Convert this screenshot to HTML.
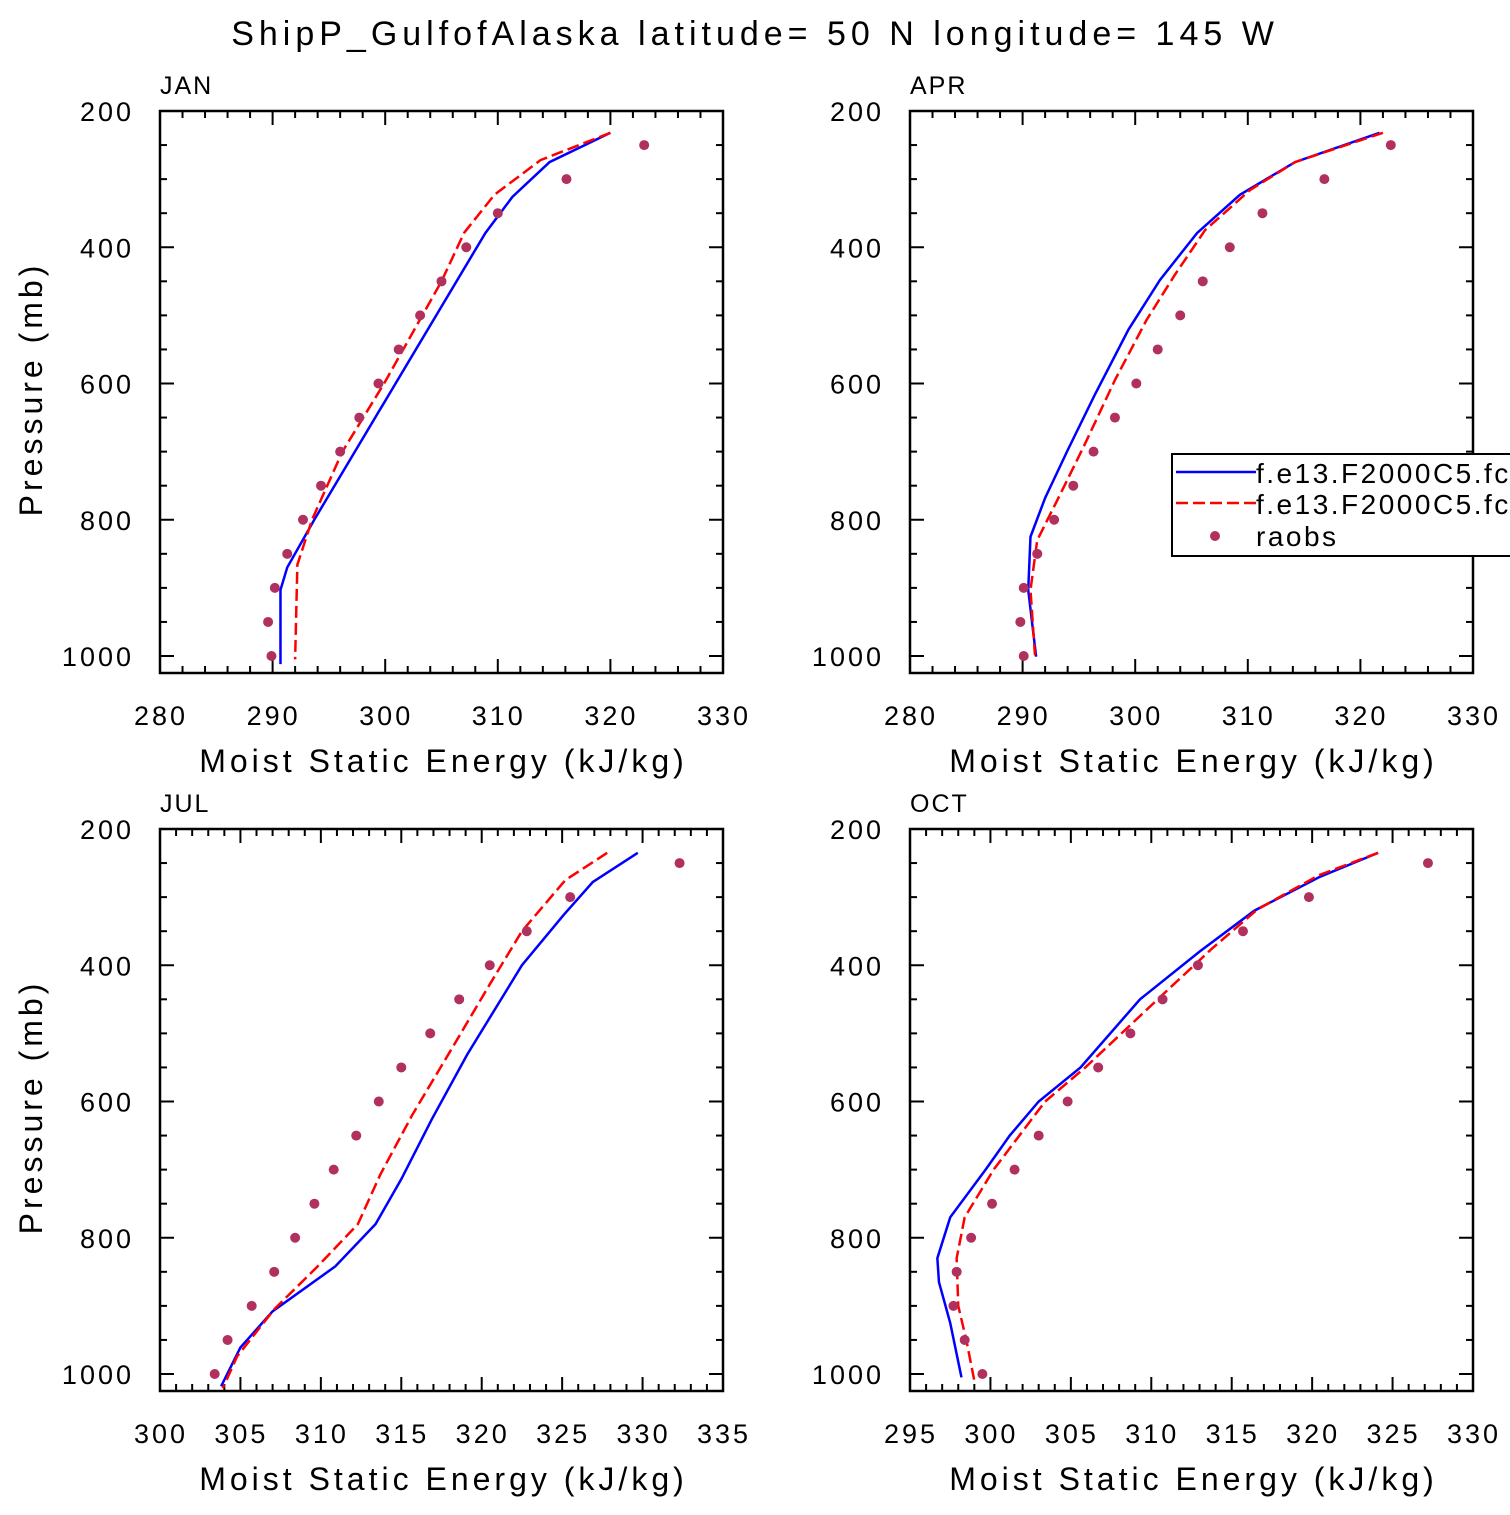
<!DOCTYPE html>
<html><head><meta charset="utf-8"><style>
body{margin:0;background:#fff;width:1510px;height:1510px;overflow:hidden}
svg text{font-family:"Liberation Sans","DejaVu Sans",sans-serif;fill:#000}
</style></head><body>
<svg id="chart" width="1510" height="1510" xmlns="http://www.w3.org/2000/svg">
<text x="755" y="45" font-size="34" text-anchor="middle" letter-spacing="5">ShipP_GulfofAlaska  latitude= 50 N longitude= 145 W</text>
</svg>
<script>
const pressureLevels=[250,300,350,400,450,500,550,600,650,700,750,800,850,900,950,1000];
const janRaobs=[323.0,316.1,310.0,307.2,305.0,303.1,301.2,299.4,297.7,296.0,294.3,292.7,291.3,290.2,289.6,289.9];
const janBlueP=[232,275,326,379,800,870,903,1012];
const janBlueX=[320.0,314.6,311.3,308.9,293.7,291.3,290.7,290.7];
const janRedP=[232,272,323,379,450,600,700,800,866,1005];
const janRedX=[320.0,313.8,309.7,307.0,305.0,299.9,296.2,293.5,292.2,292.0];
const aprRaobs=[322.7,316.8,311.3,308.4,306.0,304.0,302.0,300.1,298.2,296.3,294.5,292.8,291.3,290.1,289.8,290.1];
const aprBlueP=[232,275,323,379,448,521,617,698,768,825,903,1001];
const aprBlueX=[321.7,314.2,309.3,305.5,302.2,299.4,296.4,294.0,292.0,290.7,290.5,291.2];
const aprRedP=[232,275,316,375,441,507,595,690,764,830,903,999];
const aprRedX=[322.0,314.2,310.2,306.2,303.5,301.0,298.2,295.5,293.3,291.3,290.7,291.1];
const julRaobs=[332.3,325.5,322.8,320.5,318.6,316.8,315.0,313.6,312.2,310.8,309.6,308.4,307.1,305.7,304.2,303.4];
const julBlueP=[235,278,326,400,531,626,714,780,842,908,961,1018];
const julBlueX=[329.7,326.9,325.1,322.5,319.1,316.9,315.0,313.4,310.9,307.0,305.0,303.8];
const julRedP=[235,275,350,428,516,619,707,780,842,905,974,1021];
const julRedX=[327.8,325.2,322.5,320.5,318.3,315.7,313.7,312.3,309.8,307.1,304.8,303.9];
const octRaobs=[327.2,319.8,315.7,312.9,310.7,308.7,306.7,304.8,303.0,301.5,300.1,298.8,297.9,297.7,298.4,299.5];
const octBlueP=[235,270,320,380,450,550,600,650,700,770,830,865,925,1005];
const octBlueX=[324.1,320.5,316.4,313.0,309.3,305.6,303.0,301.2,299.7,297.5,296.7,296.8,297.5,298.2];
const octRedP=[235,268,318,375,450,550,600,650,700,770,830,900,950,1010];
const octRedX=[324.1,320.4,316.6,313.8,310.4,305.9,303.4,301.8,300.2,298.4,297.9,298.0,298.5,299.0];
const xTicksA=[280,290,300,310,320,330];
const xTicksB=[300,305,310,315,320,325,330,335];
const xTicksC=[295,300,305,310,315,320,325,330];
const yTicks=[200,400,600,800,1000];

const NS="http://www.w3.org/2000/svg";
const svg=document.getElementById('chart');
function mk(tag,attrs,parent){const e=document.createElementNS(NS,tag);for(const k in attrs)e.setAttribute(k,attrs[k]);(parent||svg).appendChild(e);return e;}

function panel(name,x0,y0,xmin,xmax,xminor,xticks,raobs,bp,bx,rp,rx){
  const W=563,H=562;
  const g=mk('g',{});
  
  
  const sx=v=>x0+(v-xmin)/(xmax-xmin)*W;
  const sy=p=>y0+(p-200)*0.68125;
  const lab=mk('text',{x:x0,y:y0-17,'font-size':25,'letter-spacing':2},g);lab.textContent=name.toUpperCase();
  
  
  for(let v=xmin;v<=xmax+1e-6;v+=xminor){
    const major=xticks.some(t=>Math.abs(t-v)<1e-6);
    const L=major?14:7;const X=sx(v);
    mk('line',{x1:X,x2:X,y1:y0+H,y2:y0+H-L,stroke:'#000','stroke-width':2},g);
    mk('line',{x1:X,x2:X,y1:y0,y2:y0+L,stroke:'#000','stroke-width':2},g);
  }
  xticks.forEach(t=>{const tx=mk('text',{x:sx(t)+1,y:y0+H+52,'font-size':27,'text-anchor':'middle','letter-spacing':3},g);tx.textContent=t;
    
    });
  for(let p=200;p<=1000;p+=50){
    const major=p%200===0;const L=major?14:7;const Y=sy(p);
    mk('line',{x1:x0,x2:x0+L,y1:Y,y2:Y,stroke:'#000','stroke-width':2},g);
    mk('line',{x1:x0+W,x2:x0+W-L,y1:Y,y2:Y,stroke:'#000','stroke-width':2},g);
  }
  yTicks.forEach(p=>{const tx=mk('text',{x:x0-26,y:sy(p)+10,'font-size':27,'text-anchor':'end','letter-spacing':3},g);tx.textContent=p;
    
    });
  const xt=mk('text',{x:x0+W/2+2,y:y0+H+99,'font-size':32,'text-anchor':'middle','letter-spacing':4},g);xt.textContent='Moist Static Energy (kJ/kg)';
  
  
  if(x0<500){const yt=mk('text',{transform:`translate(42,${y0+H/2-3}) rotate(-90)`,'font-size':32,'text-anchor':'middle','letter-spacing':4},g);yt.textContent='Pressure (mb)';
    
    }
  const bl=mk('polyline',{points:bp.map((p,i)=>sx(bx[i])+','+sy(p)).join(' '),fill:'none',stroke:'#0000ff','stroke-width':2.5},g);
  
  
  const rl=mk('polyline',{points:rp.map((p,i)=>sx(rx[i])+','+sy(p)).join(' '),fill:'none',stroke:'#ff0000','stroke-width':2.5,'stroke-dasharray':'12,5'},g);
  
  
  raobs.forEach((v,i)=>{const c=mk('circle',{cx:sx(v),cy:sy(pressureLevels[i]),r:5,fill:'#b03060'},g);
    
    });
  mk('rect',{x:x0,y:y0,width:W,height:H,fill:'none',stroke:'#000','stroke-width':2.5},g);
}
panel('jan',160,111,280,330,2,xTicksA,janRaobs,janBlueP,janBlueX,janRedP,janRedX);
panel('apr',910,111,280,330,2,xTicksA,aprRaobs,aprBlueP,aprBlueX,aprRedP,aprRedX);
panel('jul',160,829,300,335,1,xTicksB,julRaobs,julBlueP,julBlueX,julRedP,julRedX);
panel('oct',910,829,295,330,1,xTicksC,octRaobs,octBlueP,octBlueX,octRedP,octRedX);

const lg=mk('g',{});


mk('rect',{x:1172,y:454,width:360,height:102,fill:'#fff',stroke:'#000','stroke-width':2},lg);
mk('line',{x1:1176,x2:1256,y1:472,y2:472,stroke:'#0000ff','stroke-width':2.5},lg);
mk('line',{x1:1176,x2:1256,y1:503,y2:503,stroke:'#ff0000','stroke-width':2.5,'stroke-dasharray':'12,5'},lg);
mk('circle',{cx:1215,cy:536,r:5,fill:'#b03060'},lg);
[['f.e13.F2000C5.fc5',483],['f.e13.F2000C5.fc5',514],['raobs',546]].forEach(([t,y])=>{const tx=mk('text',{x:1256,y:y,'font-size':28,'letter-spacing':2.5},lg);tx.textContent=t;
  
  });
</script>
</body></html>
